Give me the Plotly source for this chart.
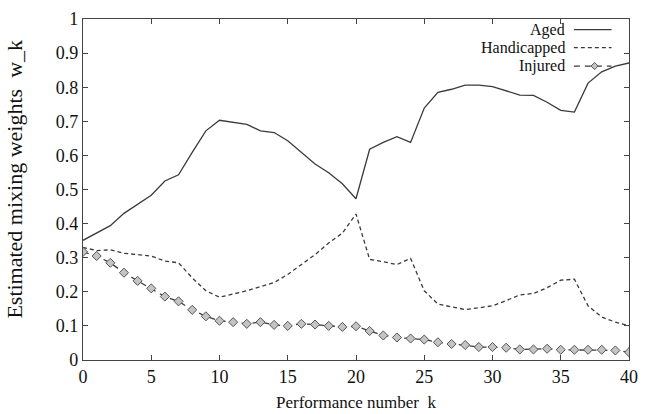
import plotly.graph_objects as go

k = list(range(41))

aged = [0.351, 0.372, 0.394, 0.430, 0.456, 0.483, 0.525, 0.543, 0.609, 0.672,
        0.703, 0.698, 0.691, 0.672, 0.667, 0.643, 0.609, 0.575, 0.549, 0.517,
        0.473, 0.618, 0.638, 0.655, 0.638, 0.739, 0.785, 0.794, 0.806, 0.806,
        0.802, 0.790, 0.777, 0.776, 0.756, 0.732, 0.727, 0.812, 0.845, 0.862,
        0.871]

handicapped = [0.330, 0.321, 0.323, 0.313, 0.309, 0.305, 0.290, 0.285, 0.241, 0.203,
               0.184, 0.193, 0.203, 0.215, 0.227, 0.251, 0.280, 0.309, 0.343, 0.372,
               0.428, 0.295, 0.288, 0.280, 0.298, 0.203, 0.164, 0.155, 0.148, 0.153,
               0.159, 0.174, 0.191, 0.195, 0.212, 0.234, 0.237, 0.159, 0.126, 0.111,
               0.101]

injured = [0.317, 0.305, 0.285, 0.256, 0.232, 0.210, 0.186, 0.172, 0.147, 0.128,
           0.115, 0.111, 0.106, 0.111, 0.103, 0.100, 0.106, 0.104, 0.100, 0.097,
           0.099, 0.085, 0.072, 0.066, 0.063, 0.060, 0.052, 0.047, 0.044, 0.038,
           0.038, 0.036, 0.031, 0.031, 0.033, 0.030, 0.030, 0.030, 0.030, 0.028,
           0.023]

series_names = ["Aged", "Handicapped", "Injured"]
x_ticks = [0, 5, 10, 15, 20, 25, 30, 35, 40]
y_ticks = [0, 0.1, 0.2, 0.3, 0.4, 0.5, 0.6, 0.7, 0.8, 0.9, 1]

FONT = "Liberation Serif"
LC = "#3a3a3a"

fig = go.Figure()
fig.add_trace(go.Scatter(x=k, y=aged, mode="lines", name=series_names[0],
                         line=dict(color=LC, width=1.3), showlegend=False))
fig.add_trace(go.Scatter(x=k, y=handicapped, mode="lines", name=series_names[1],
                         line=dict(color=LC, width=1.3, dash="4px,3px"), showlegend=False))
fig.add_trace(go.Scatter(x=k, y=injured, mode="lines+markers", name=series_names[2],
                         line=dict(color=LC, width=1.3, dash="6px,5px"),
                         marker=dict(symbol="diamond", size=7, color="#c4c4c4",
                                     line=dict(color="#555", width=1)),
                         showlegend=False))

axis_common = dict(showline=True, linecolor="#444", linewidth=1.2, mirror="ticks",
                   ticks="inside", ticklen=5, tickcolor="#444", showgrid=False,
                   zeroline=False, tickfont=dict(family=FONT, size=18, color="#111"))

fig.update_xaxes(range=[0, 40], tickvals=x_ticks, ticktext=[str(v) for v in x_ticks],
                 **axis_common)
fig.update_yaxes(range=[0, 1], tickvals=y_ticks, ticktext=[f"{v:g}" for v in y_ticks],
                 **axis_common)

# manual gnuplot-style legend (text left of sample)
rows_y = [0.969, 0.916, 0.862]
dashes = ["solid", "4px,3px", "6px,5px"]
shapes = []
annotations = []
for name, yy, dsh in zip(series_names, rows_y, dashes):
    annotations.append(dict(text=name, x=0.884, y=yy, xref="paper", yref="paper",
                            xanchor="right", yanchor="middle", showarrow=False,
                            borderpad=0,
                            font=dict(family=FONT, size=16, color="#111")))
    shapes.append(dict(type="line", xref="paper", yref="paper", x0=0.899, x1=0.968,
                       y0=yy, y1=yy, line=dict(color=LC, width=1.3, dash=dsh)))
# diamond for the Injured sample
cx, cy = 0.937, rows_y[2]
dx, dy = 0.0065, 0.0105
shapes.append(dict(type="path", xref="paper", yref="paper",
                   path=f"M {cx-dx},{cy} L {cx},{cy+dy} L {cx+dx},{cy} L {cx},{cy-dy} Z",
                   fillcolor="#c4c4c4", line=dict(color="#555", width=1)))

annotations.append(dict(text="Performance number\u00a0\u00a0k", x=0.5, y=0, xref="paper", yref="paper",
                        xanchor="center", yanchor="middle", yshift=-42, showarrow=False,
                        font=dict(family=FONT, size=17, color="#111")))
annotations.append(dict(text="Estimated mixing weights\u00a0\u00a0w_k", x=0, y=0.529, xref="paper",
                        yref="paper", xanchor="center", yanchor="middle", xshift=-68,
                        textangle=-90, showarrow=False,
                        font=dict(family=FONT, size=22, color="#111")))

fig.update_layout(width=647, height=414, margin=dict(l=83, r=9, t=15, b=54),
                  paper_bgcolor="white", plot_bgcolor="white",
                  shapes=shapes, annotations=annotations)

fig.write_html("out.html")
